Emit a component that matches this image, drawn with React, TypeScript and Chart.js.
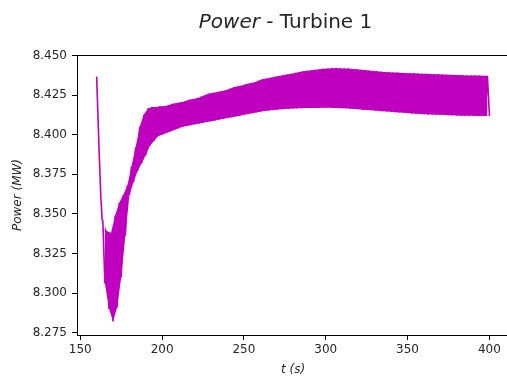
import React, { useEffect, useRef } from "react";
import { Chart, registerables } from "chart.js";

Chart.register(...registerables);

// ---- data ----
const earlyTimes = [160.0, 161.6, 162.6, 163.4];
const earlyPower = [8.4367, 8.3873, 8.36, 8.346];

const oscStart = 163.8; // time of first oscillation peak (s)
const oscPeriod = 2.5; // oscillation period (s)

const peakPower = [
  8.345, 8.339, 8.338, 8.349, 8.357, 8.362, 8.368, 8.38, 8.392, 8.405,
  8.4125, 8.4165, 8.4175, 8.4175, 8.418, 8.418, 8.4185, 8.4195, 8.42, 8.4205,
  8.421, 8.422, 8.4225, 8.423, 8.424, 8.425, 8.426, 8.4265, 8.427, 8.4275,
  8.428, 8.429, 8.43, 8.4305, 8.431, 8.432, 8.4325, 8.433, 8.434, 8.435,
  8.4355, 8.436, 8.4365, 8.437, 8.4375, 8.438, 8.4385, 8.439, 8.4395, 8.44,
  8.4403, 8.4407, 8.441, 8.4413, 8.4416, 8.4418, 8.442, 8.442, 8.4419, 8.4418,
  8.4417, 8.4415, 8.4413, 8.441, 8.4408, 8.4405, 8.4402, 8.44, 8.4398, 8.4396,
  8.4394, 8.4393, 8.4392, 8.439, 8.4389, 8.4388, 8.4387, 8.4386, 8.4385, 8.4384,
  8.4383, 8.4382, 8.4381, 8.438, 8.4379, 8.4378, 8.4377, 8.4376, 8.4375, 8.4374,
  8.4374, 8.4373, 8.4373, 8.4372, 8.4372,
];
const troughPower = [
  8.306, 8.29, 8.282, 8.291, 8.31, 8.336, 8.362, 8.37, 8.377, 8.382,
  8.387, 8.393, 8.396, 8.399, 8.4, 8.401, 8.402, 8.403, 8.404, 8.405,
  8.4055, 8.406, 8.4065, 8.407, 8.4075, 8.408, 8.4085, 8.409, 8.4095, 8.41,
  8.4105, 8.411, 8.4115, 8.412, 8.4125, 8.413, 8.4135, 8.414, 8.4145, 8.415,
  8.4152, 8.4155, 8.4157, 8.416, 8.4162, 8.4163, 8.4165, 8.4166, 8.4167, 8.4168,
  8.4168, 8.4169, 8.4169, 8.417, 8.417, 8.417, 8.4169, 8.4168, 8.4167, 8.4166,
  8.4164, 8.4162, 8.416, 8.4158, 8.4156, 8.4154, 8.4152, 8.415, 8.4148, 8.4146,
  8.4144, 8.4142, 8.414, 8.4138, 8.4136, 8.4134, 8.4132, 8.413, 8.4129, 8.4128,
  8.4127, 8.4126, 8.4125, 8.4124, 8.4123, 8.4122, 8.4121, 8.412, 8.412, 8.4119,
  8.4119, 8.4118, 8.4118, 8.4118, 8.4117,
];

const xTicks = [150, 200, 250, 300, 350, 400];
const yTicks = [8.275, 8.3, 8.325, 8.35, 8.375, 8.4, 8.425, 8.45];

const FONT = "'DejaVu Sans', sans-serif";
const TEXT = "#262626";
const LINE = "#bf00bf";

const textPlugin = {
  id: "mplText",
  afterDraw(chart: any) {
    const { ctx, chartArea } = chart;
    ctx.save();
    // top spine
    ctx.strokeStyle = "#000";
    ctx.lineWidth = 1;
    ctx.beginPath();
    ctx.moveTo(chartArea.left, Math.round(chartArea.top) + 0.5);
    ctx.lineTo(chartArea.right, Math.round(chartArea.top) + 0.5);
    ctx.stroke();

    ctx.fillStyle = TEXT;
    // title: italic "Power" + " - Turbine 1"
    const italic = `italic 20px ${FONT}`;
    const normal = `20px ${FONT}`;
    ctx.font = italic;
    const w1 = ctx.measureText("Power").width;
    ctx.font = normal;
    const rest = " - Turbine 1";
    const w2 = ctx.measureText(rest).width;
    const cx = 285.5;
    const x0 = cx - (w1 + w2) / 2;
    ctx.textBaseline = "alphabetic";
    ctx.textAlign = "left";
    ctx.font = italic;
    ctx.fillText("Power", x0, 28);
    ctx.font = normal;
    ctx.fillText(rest, x0 + w1, 28);

    // x label
    ctx.font = `italic 12px ${FONT}`;
    ctx.textAlign = "center";
    ctx.fillText("t (s)", (chartArea.left + chartArea.right) / 2, 373);

    // y label
    ctx.translate(21, (chartArea.top + chartArea.bottom) / 2);
    ctx.rotate(-Math.PI / 2);
    ctx.fillText("Power (MW)", 0, 0);
    ctx.restore();
  },
};

export default function App() {
  const ref = useRef<HTMLCanvasElement | null>(null);

  useEffect(() => {
    const canvas = ref.current;
    if (!canvas) return;
    const early: { x: number; y: number }[] = [];
    earlyTimes.forEach((t, i) => early.push({ x: t, y: earlyPower[i] }));
    const osc: { x: number; y: number }[] = [early[early.length - 1]];
    const peaks: { x: number; y: number }[] = [];
    const troughs: { x: number; y: number }[] = [];
    peakPower.forEach((v, i) => {
      const p = { x: oscStart + i * oscPeriod, y: v };
      const q = { x: oscStart + oscPeriod / 2 + i * oscPeriod, y: troughPower[i] };
      osc.push(p, q);
      peaks.push(p);
      troughs.push(q);
    });

    const chart = new Chart(canvas, {
      type: "line",
      data: {
        datasets: [
          {
            data: early,
            borderColor: LINE,
            borderWidth: 1.6,
            pointRadius: 0,
            tension: 0,
            fill: false,
            order: 1,
          },
          {
            data: osc,
            borderColor: LINE,
            borderWidth: 1.6,
            borderJoinStyle: "bevel",
            pointRadius: 0,
            tension: 0,
            fill: false,
            order: 0,
          },
          {
            data: peaks,
            borderColor: LINE,
            backgroundColor: LINE,
            borderWidth: 0,
            pointRadius: 0,
            tension: 0,
            fill: "+1",
            order: 2,
          },
          {
            data: troughs,
            borderColor: LINE,
            borderWidth: 0,
            pointRadius: 0,
            tension: 0,
            fill: false,
            order: 3,
          },
        ],
      },
      options: {
        animation: false,
        responsive: false,
        devicePixelRatio: 1,
        parsing: false,
        layout: { padding: { left: 0, right: 11, top: 55, bottom: 0 } },
        plugins: {
          legend: { display: false },
          title: { display: false },
          tooltip: { enabled: false },
          filler: { propagate: false },
        },
        scales: {
          x: {
            type: "linear",
            min: 148,
            max: 412,
            afterBuildTicks: (s: any) => {
              s.ticks = xTicks.map((v) => ({ value: v }));
            },
            afterFit: (s: any) => {
              s.height = 47;
            },
            grid: {
              display: true,
              drawOnChartArea: false,
              drawTicks: true,
              tickLength: 5,
              tickColor: "#000",
            },
            border: { display: true, color: "#000", width: 1 },
            ticks: {
              color: TEXT,
              font: { family: FONT, size: 12 },
              padding: 3,
              maxRotation: 0,
              callback: (v: any) => String(v),
            },
          },
          y: {
            type: "linear",
            min: 8.2735,
            max: 8.4503,
            afterBuildTicks: (s: any) => {
              s.ticks = yTicks.map((v) => ({ value: v }));
            },
            afterFit: (s: any) => {
              s.width = 77;
            },
            grid: {
              display: true,
              drawOnChartArea: false,
              drawTicks: true,
              tickLength: 5,
              tickColor: "#000",
            },
            border: { display: true, color: "#000", width: 1 },
            ticks: {
              color: TEXT,
              font: { family: FONT, size: 12 },
              padding: 5,
              callback: (v: any) => Number(v).toFixed(3),
            },
          },
        },
      },
      plugins: [textPlugin],
    });
    return () => chart.destroy();
  }, []);

  return (
    <div
      style={{
        position: "fixed",
        left: 0,
        top: 0,
        width: 507,
        height: 382,
        overflow: "hidden",
        background: "#fff",
      }}
    >
      <canvas ref={ref} width={520} height={382} style={{ display: "block", width: 520, height: 382 }} />
    </div>
  );
}
